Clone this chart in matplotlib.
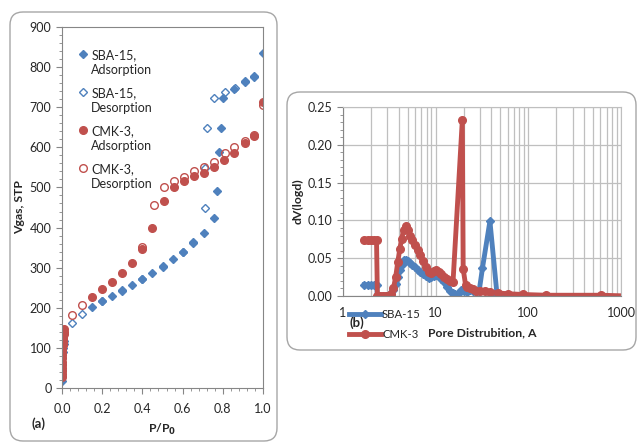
import matplotlib
matplotlib.use("Agg")
import matplotlib.pyplot as plt
from matplotlib.patches import FancyBboxPatch
from matplotlib.ticker import MultipleLocator, FormatStrFormatter, FixedLocator, NullFormatter, LogLocator

plt.rcParams['font.family'] = ['Lato', 'DejaVu Sans']
plt.rcParams['font.size'] = 9

BLUE = '#4F81BD'
RED = '#C0504D'
TXT = '#262626'

# ---- (a) isotherms: P/P0 vs Vgas ----
sba_ads_p = [0.0, 0.0, 0.0, 0.001, 0.002, 0.003, 0.005, 0.008, 0.012,
             0.15, 0.2, 0.25, 0.3, 0.35, 0.4, 0.45, 0.5, 0.55, 0.6, 0.65, 0.705,
             0.755, 0.77, 0.78, 0.79, 0.80, 0.855, 0.91, 0.955, 1.0]
sba_ads_v = [18, 30, 45, 60, 75, 90, 100, 110, 118,
             202, 216, 230, 243, 257, 271, 286, 302, 321, 339, 361, 386,
             423, 492, 589, 648, 724, 746, 762, 775, 836]

sba_des_p = [0.05, 0.1, 0.2, 0.3, 0.4, 0.5, 0.6, 0.65, 0.71, 0.71, 0.72, 0.757, 0.81, 0.86, 0.91, 0.955]
sba_des_v = [161, 184, 217, 244, 272, 303, 340, 365, 448, 548, 648, 722, 737, 749, 765, 778]

cmk_ads_p = [0.0, 0.0, 0.0, 0.0, 0.0, 0.0, 0.001, 0.001, 0.002, 0.002, 0.003, 0.004,
             0.005, 0.006, 0.008, 0.01, 0.012,
             0.15, 0.2, 0.25, 0.3, 0.35, 0.4, 0.45, 0.505, 0.557, 0.607, 0.657,
             0.707, 0.757, 0.807, 0.857, 0.91, 0.955, 1.0]
cmk_ads_v = [28, 34, 42, 50, 58, 66, 74, 82, 90, 98, 106, 114,
             121, 128, 134, 140, 146,
             227, 246, 265, 287, 312, 347, 400, 467, 502, 517, 529,
             537, 552, 568, 587, 612, 629, 712]

cmk_des_p = [0.05, 0.1, 0.4, 0.457, 0.507, 0.557, 0.607, 0.657, 0.707, 0.757, 0.81, 0.857, 0.91, 0.955, 1.0]
cmk_des_v = [181, 206, 351, 456, 502, 517, 527, 540, 550, 564, 585, 602, 617, 631, 706]

# ---- (b) pore size distribution ----
sba_d = [1.7, 1.85, 2.0, 2.15, 2.3, 2.35, 2.5, 2.7, 2.9, 3.1, 3.3, 3.5, 3.7, 3.9, 4.1, 4.3,
         4.6, 4.8, 5.0, 5.3, 5.6, 6.0, 6.4, 6.8, 7.3, 7.8, 8.4, 9.0, 9.6, 10.2, 10.8,
         11.5, 12.3, 13.2, 14.2, 15.2, 16.2, 17.0, 18.0, 19.0, 20.0, 21.0, 22.0, 23.5,
         25.0, 27.0, 29.5, 32.0, 38.5, 46.0, 630.0]
sba_dv = [0.015, 0.015, 0.015, 0.015, 0.015, 0.0, 0.0, 0.0, 0.0, 0.001, 0.003, 0.008,
          0.016, 0.025, 0.034, 0.041, 0.047, 0.048, 0.046, 0.044, 0.041, 0.038, 0.035,
          0.032, 0.029, 0.026, 0.024, 0.025, 0.027, 0.028, 0.027, 0.023, 0.018, 0.012,
          0.007, 0.004, 0.002, 0.001, 0.004, 0.008, 0.006, 0.009, 0.005, 0.008, 0.006,
          0.005, 0.007, 0.037, 0.099, 0.001, 0.0]

cmk_d = [1.7, 1.85, 2.0, 2.15, 2.3, 2.35, 2.5, 2.7, 2.9, 3.1, 3.3, 3.5, 3.7, 3.9, 4.1,
         4.3, 4.5, 4.75, 5.0, 5.3, 5.6, 6.0, 6.4, 6.8, 7.3, 7.8, 8.4, 9.0, 9.6, 10.2,
         10.8, 11.5, 12.3, 13.2, 14.2, 15.4, 19.4, 19.8, 21.0, 22.0, 23.5, 25.0, 27.0,
         30.0, 34.0, 39.0, 47.0, 60.0, 87.0, 155.0, 610.0, 1200.0]
cmk_dv = [0.074, 0.074, 0.074, 0.074, 0.074, 0.0, 0.0, 0.0, 0.0, 0.0, 0.002, 0.010,
          0.025, 0.045, 0.062, 0.076, 0.087, 0.093, 0.087, 0.080, 0.074, 0.068, 0.061,
          0.054, 0.046, 0.038, 0.032, 0.031, 0.033, 0.034, 0.032, 0.029, 0.025, 0.022,
          0.020, 0.019, 0.233, 0.036, 0.015, 0.012, 0.010, 0.009, 0.007, 0.006, 0.006,
          0.005, 0.004, 0.003, 0.002, 0.001, 0.001, 0.0]

W, H = 639, 446
LABEL_FS = 8.8
fig = plt.figure(figsize=(W / 100, H / 100), dpi=100)

# rounded frames behind each chart (inches)
for (x0, y0, w, h) in [(0.10, 0.05, 2.67, 4.29), (2.87, 0.96, 3.49, 2.58)]:
    fig.add_artist(FancyBboxPatch((x0, y0), w, h, boxstyle='round,pad=0,rounding_size=0.13',
                                  transform=fig.dpi_scale_trans, fc='none', ec='#a6a6a6', lw=1.0))

# ---------- panel (a) ----------
ax1 = fig.add_axes([62 / W, 1 - 388 / H, 201 / W, 361 / H])
ax1.plot(sba_ads_p, sba_ads_v, 'D', ms=4, color=BLUE, mec=BLUE, ls='none',
         label='SBA-15,\nAdsorption')
ax1.plot(sba_des_p, sba_des_v, 'D', ms=4, mfc='none', mec=BLUE, mew=1.0, ls='none',
         label='SBA-15,\nDesorption')
ax1.plot(cmk_ads_p, cmk_ads_v, 'o', ms=5.5, color=RED, mec=RED, ls='none',
         label='CMK-3,\nAdsorption')
ax1.plot(cmk_des_p, cmk_des_v, 'o', ms=5.5, mfc='none', mec=RED, mew=1.0, ls='none',
         label='CMK-3,\nDesorption')

ax1.set_xlim(0, 1.0)
ax1.set_ylim(0, 900)
ax1.xaxis.set_major_locator(MultipleLocator(0.2))
ax1.xaxis.set_minor_locator(MultipleLocator(0.04))
ax1.xaxis.set_major_formatter(FormatStrFormatter('%.1f'))
ax1.yaxis.set_major_locator(MultipleLocator(100))
ax1.yaxis.set_minor_locator(MultipleLocator(20))
for s in ax1.spines.values():
    s.set_color('#868686')
    s.set_linewidth(0.8)
ax1.tick_params(which='major', length=4, width=0.8, color='#868686', labelcolor=TXT, labelsize=9)
ax1.tick_params(axis='x', which='major', pad=7)
ax1.tick_params(which='minor', length=2.5, width=0.6, color='#868686')
ax1.set_ylabel('Vgas, STP', fontweight='bold', color=TXT, fontsize=LABEL_FS, labelpad=3)
ax1.set_xlabel('P/P$_\\mathbf{0}$', fontweight='bold', color=TXT, fontsize=LABEL_FS, labelpad=5)
leg1 = ax1.legend(loc='upper left', bbox_to_anchor=(0.04, 0.955), frameon=False,
                  handletextpad=0.2, labelspacing=0.88, handlelength=1.0,
                  borderpad=0, labelcolor=TXT, fontsize=9)
for t in leg1.get_texts():
    t.set_linespacing(1.3)
# marker sits next to the first line of each two-line label
for col in leg1._legend_handle_box.get_children():
    for row in col.get_children():
        row.align = 'top'
fig.text(31 / W, 1 - 424 / H, '(a)', fontweight='bold', color=TXT, fontsize=9.5, va='center')

# ---------- panel (b) ----------
ax2 = fig.add_axes([343 / W, 1 - 296 / H, 278 / W, 189 / H])
ax2.plot(sba_d, sba_dv, '-D', color=BLUE, lw=3.5, ms=4.5, label='SBA-15')
ax2.plot(cmk_d, cmk_dv, '-o', color=RED, lw=3.5, ms=5.5, label='CMK-3')
ax2.set_xscale('log')
ax2.set_xlim(1, 1000)
ax2.set_ylim(0, 0.25)
ax2.xaxis.set_major_locator(FixedLocator([1, 10, 100, 1000]))
ax2.xaxis.set_major_formatter(FormatStrFormatter('%d'))
ax2.xaxis.set_minor_locator(LogLocator(base=10, subs=range(2, 10)))
ax2.xaxis.set_minor_formatter(NullFormatter())
ax2.yaxis.set_major_locator(MultipleLocator(0.05))
ax2.yaxis.set_minor_locator(MultipleLocator(0.01))
ax2.yaxis.set_major_formatter(FormatStrFormatter('%.2f'))
ax2.grid(True, which='major', axis='both', color='#bfbfbf', lw=0.9)
ax2.grid(True, which='minor', axis='x', color='#bfbfbf', lw=0.9)
ax2.set_axisbelow(True)
for side in ['top', 'right']:
    ax2.spines[side].set_color('#bfbfbf')
for side in ['left', 'bottom']:
    ax2.spines[side].set_color('#868686')
ax2.tick_params(axis='y', which='major', length=4, width=0.8, color='#868686', labelcolor=TXT, labelsize=9)
ax2.tick_params(axis='y', which='minor', length=2.5, width=0.6, color='#868686')
ax2.tick_params(axis='x', which='both', length=0, labelcolor=TXT, labelsize=9, pad=8)
ax2.set_ylabel('dV(logd)', fontweight='bold', color=TXT, fontsize=LABEL_FS, labelpad=3)
ax2.set_xlabel('Pore Distrubition, A', fontweight='bold', color=TXT, fontsize=LABEL_FS, labelpad=6)
fig.legend(*ax2.get_legend_handles_labels(), loc='upper left',
           bbox_to_anchor=(349 / W, 1 - 309 / H), frameon=False, borderpad=0,
           borderaxespad=0, handlelength=2.8, handletextpad=0.1, labelspacing=0.75,
           labelcolor=TXT, fontsize=8.2)
fig.text(350 / W, 1 - 323 / H, '(b)', fontweight='bold', color=TXT, fontsize=9.5, va='center')

fig.savefig('out.png', dpi=100)
